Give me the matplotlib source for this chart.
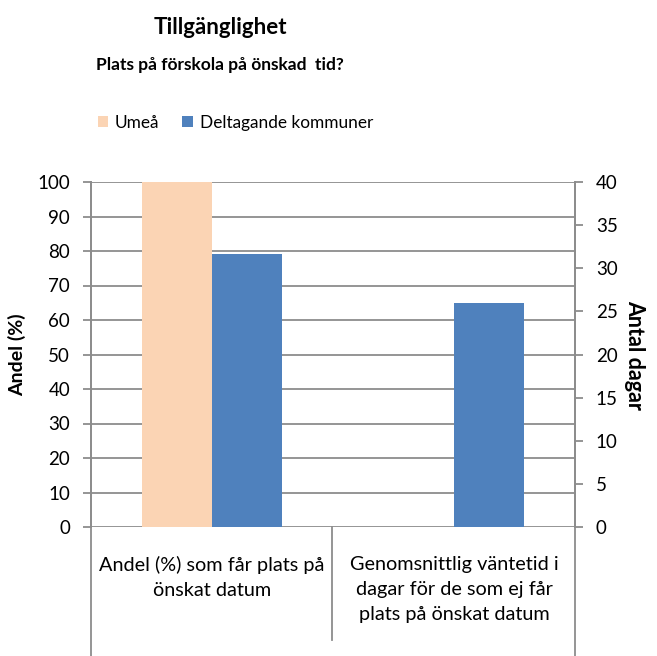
import numpy as np
import matplotlib.pyplot as plt
from matplotlib.lines import Line2D

# data
categories = ["Andel (%) som får plats på\nönskat datum",
              "Genomsnittlig väntetid i\ndagar för de som ej får\nplats på önskat datum"]
umea_andel = 100          # percent, left axis
deltagande_andel = 79     # percent, left axis
deltagande_dagar = 26     # days, right axis
left_ticks = list(range(0, 101, 10))
right_ticks = list(range(0, 41, 5))

peach = "#FBD4B4"
blue = "#4F81BD"
grid_col = "#8C8C8C"

plt.rcParams['font.family'] = ['Lato', 'DejaVu Sans']

fig = plt.figure(figsize=(6.57, 6.56), dpi=100)
ax = fig.add_axes([91/657, 1-527/656, (575-91)/657, (527-182)/656])
ax2 = ax.twinx()

w = 0.29
x = np.arange(len(categories))
ax.bar(x[0] - w/2, umea_andel, width=w, color=peach, zorder=3, label="Umeå")
ax.bar(x[0] + w/2, deltagande_andel, width=w, color=blue, zorder=3, label="Deltagande kommuner")
ax2.bar(x[1] + w/2, deltagande_dagar, width=w, color=blue, zorder=3)

ax.set_xlim(-0.5, 1.5)
ax.set_ylim(0, 100)
ax2.set_ylim(0, 40)
ax.set_yticks(left_ticks)
ax2.set_yticks(right_ticks)
ax.set_xticks([])
ax2.set_xticks([])

for t in left_ticks:
    ax.axhline(t, color=grid_col, lw=1.3, zorder=1)

for a in (ax, ax2):
    for s in ("top", "bottom"):
        a.spines[s].set_visible(False)
    a.spines["left"].set_color(grid_col)
    a.spines["right"].set_color(grid_col)
    a.spines["left"].set_linewidth(1.3)
    a.spines["right"].set_linewidth(1.3)
    a.tick_params(axis='y', length=6, width=1.3, color=grid_col, labelsize=13.5, pad=9)

ax.set_ylabel("Andel (%)", fontsize=14, fontweight="bold", labelpad=8)
ax2.set_ylabel("Antal dagar", fontsize=15.5, fontweight="bold", rotation=-90, labelpad=20)

# category labels and separators
for i, lab in enumerate(categories):
    ax.text(x[i], -0.085, lab, transform=ax.get_xaxis_transform(), ha="center", va="top",
            fontsize=14.3, linespacing=1.55, clip_on=False)

for xf, y0 in ((91/657, 0.0), (332/657, 1-640/656), (575/657, 0.0)):
    fig.add_artist(Line2D([xf, xf], [y0, 1-527/656], transform=fig.transFigure,
                          color=grid_col, lw=1.3))

fig.text(220/657, 1-28/656, "Tillgänglighet", ha="center", va="center",
         fontsize=16, fontweight="bold")
fig.text(220/657, 1-65/656, "Plats på förskola på önskad  tid?", ha="center", va="center",
         fontsize=12.5, fontweight="bold")

ax.legend(loc="center left", bbox_to_anchor=(82/657, 1-123/656), bbox_transform=fig.transFigure,
          ncol=2, frameon=False, fontsize=12.4, handlelength=0.6, handleheight=0.6,
          columnspacing=1.35, handletextpad=0.4)

fig.savefig("out.png", dpi=100)
